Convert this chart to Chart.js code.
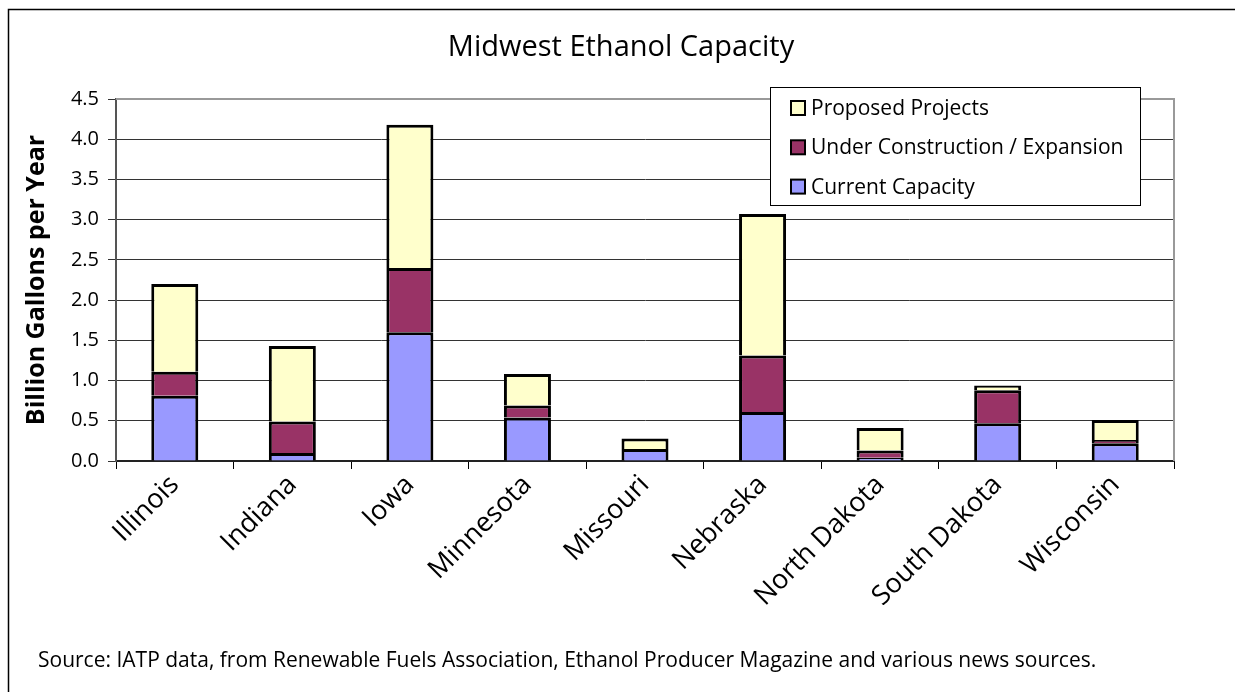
<!DOCTYPE html>
<html>
<head>
<meta charset="utf-8">
<script src="https://cdn.jsdelivr.net/npm/chart.js@4"></script>
<style>
  html, body { margin: 0; padding: 0; background: #fff; }
  #wrap { width: 1235px; height: 692px; }
</style>
</head>
<body>
<div id="wrap"><canvas id="ethanolChart" width="1235" height="692"></canvas></div>
<script>
const states = ["Illinois", "Indiana", "Iowa", "Minnesota", "Missouri", "Nebraska", "North Dakota", "South Dakota", "Wisconsin"];
const currentCapacity = [0.81, 0.10, 1.60, 0.54, 0.15, 0.61, 0.04, 0.47, 0.22];
const underConstruction = [0.30, 0.39, 0.80, 0.15, 0.00, 0.70, 0.09, 0.41, 0.04];
const proposedProjects = [1.09, 0.94, 1.78, 0.39, 0.13, 1.76, 0.28, 0.06, 0.25];
const yTicks = [0, 0.5, 1.0, 1.5, 2.0, 2.5, 3.0, 3.5, 4.0, 4.5];

const chartTitle = "Midwest Ethanol Capacity";
const yTitle = "Billion Gallons per Year";
const sourceNote = "Source: IATP data, from Renewable Fuels Association, Ethanol Producer Magazine and various news sources.";

const FONT = "'Open Sans', 'Noto Sans', sans-serif";

// frame, title, plot border, legend and source line
const decorations = {
  id: "decorations",
  beforeDatasetsDraw(chart) {
    const { ctx, chartArea: a } = chart;
    ctx.save();
    ctx.strokeStyle = "#999";
    ctx.lineWidth = 2;
    ctx.beginPath();
    ctx.moveTo(a.left, a.top);
    ctx.lineTo(a.right, a.top);
    ctx.lineTo(a.right, a.bottom);
    ctx.stroke();
    ctx.restore();
  },
  afterDraw(chart) {
    const { ctx } = chart;
    ctx.save();

    // outer frame (cropped at right and bottom)
    ctx.strokeStyle = "#000";
    ctx.lineWidth = 1.5;
    ctx.beginPath();
    ctx.moveTo(8.5, 700);
    ctx.lineTo(8.5, 9.5);
    ctx.lineTo(1240, 9.5);
    ctx.stroke();

    ctx.fillStyle = "#000";
    ctx.textAlign = "center";
    ctx.textBaseline = "middle";
    ctx.font = "29px " + FONT;
    ctx.fillText(chartTitle, 621, 48);

    ctx.textAlign = "left";
    ctx.font = "21px " + FONT;
    ctx.fillText(sourceNote, 38, 661);

    // legend box, reversed dataset order
    const box = { x: 770.5, y: 87.5, w: 370, h: 118 };
    ctx.fillStyle = "#fff";
    ctx.fillRect(box.x, box.y, box.w, box.h);
    ctx.strokeStyle = "#000";
    ctx.lineWidth = 1;
    ctx.strokeRect(box.x, box.y, box.w, box.h);
    ctx.font = "21px " + FONT;
    const sets = chart.data.datasets.slice().reverse();
    sets.forEach((ds, i) => {
      const cy = 108 + i * 39.3;
      ctx.fillStyle = ds.backgroundColor;
      ctx.fillRect(791, cy - 7, 14, 14);
      ctx.lineWidth = 2;
      ctx.strokeStyle = "#000";
      ctx.strokeRect(791, cy - 7, 14, 14);
      ctx.fillStyle = "#000";
      ctx.fillText(ds.label, 811, cy + 1);
    });
    ctx.restore();
  }
};

new Chart(document.getElementById("ethanolChart"), {
  type: "bar",
  data: {
    labels: states,
    datasets: [
      {
        label: "Current Capacity",
        data: currentCapacity,
        backgroundColor: "#9999FF",
      },
      {
        label: "Under Construction / Expansion",
        data: underConstruction,
        backgroundColor: "#993366",
      },
      {
        label: "Proposed Projects",
        data: proposedProjects,
        backgroundColor: "#FFFFCC",
      },
    ].map(ds => Object.assign(ds, {
      borderColor: "#000",
      borderWidth: { top: 3, left: 3, right: 3, bottom: 0 },
      borderSkipped: false,
      barPercentage: 0.4,
      categoryPercentage: 1.0,
    })),
  },
  options: {
    responsive: false,
    animation: false,
    layout: { padding: { top: 99, right: 61, left: 0, bottom: 0 } },
    scales: {
      x: {
        stacked: true,
        afterFit: (scale) => { scale.height = 231; },
        grid: {
          offset: true,
          drawOnChartArea: false,
          tickLength: 8,
          color: "#000",
        },
        border: { color: "#222", width: 2 },
        ticks: {
          color: "#000",
          font: { family: FONT, size: 27 },
          minRotation: 45,
          maxRotation: 45,
          padding: 0,
          autoSkip: false,
        },
      },
      y: {
        stacked: true,
        min: 0,
        max: 4.5,
        afterFit: (scale) => { scale.width = 116; },
        afterBuildTicks: (scale) => { scale.ticks = yTicks.map(v => ({ value: v })); },
        grid: {
          color: (c) => (c.tick && c.tick.value === 4.5 ? "rgba(0,0,0,0)" : "#333"),
          tickColor: "#333",
          tickLength: 8,
        },
        border: { color: "#555", width: 2 },
        ticks: {
          color: "#000",
          font: { family: FONT, size: 20 },
          padding: 9,
          callback: (v) => Number(v).toFixed(1),
        },
        title: {
          display: true,
          text: yTitle,
          color: "#000",
          font: { family: FONT, size: 25, weight: "bold" },
          padding: { top: 22, bottom: 0 },
        },
      },
    },
    plugins: {
      legend: { display: false },
      tooltip: { enabled: false },
    },
  },
  plugins: [decorations],
});
</script>
</body>
</html>
